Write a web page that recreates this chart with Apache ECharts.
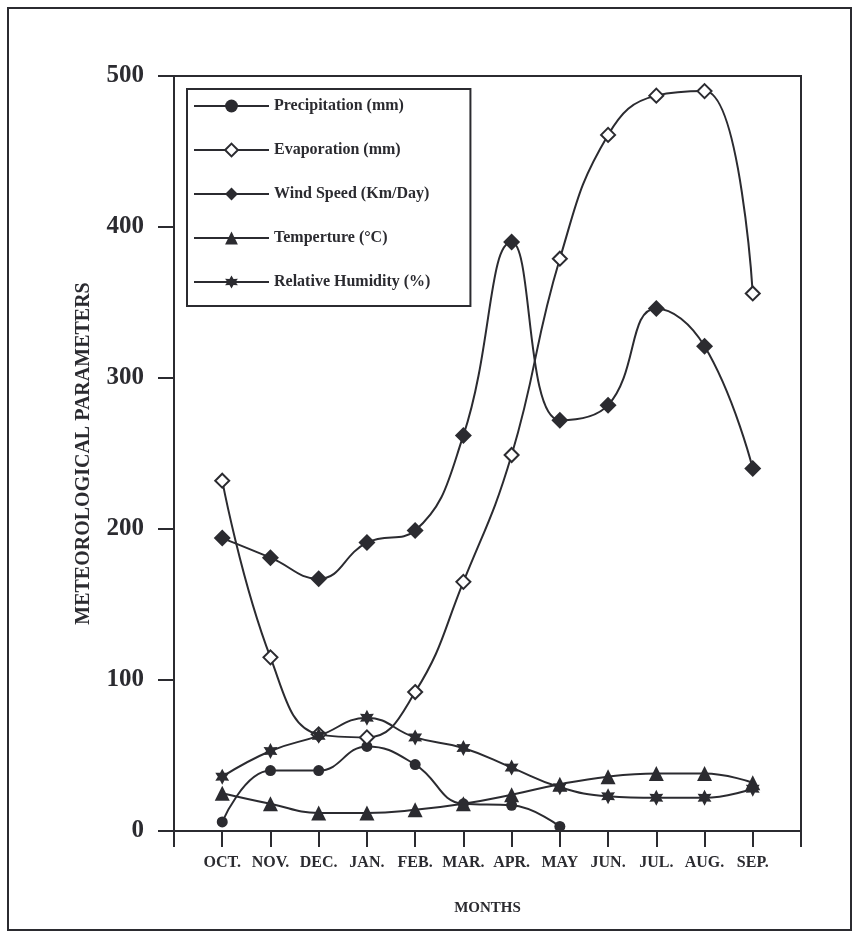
<!DOCTYPE html>
<html>
<head>
<meta charset="utf-8">
<script src="https://cdn.jsdelivr.net/npm/echarts@6/dist/echarts.min.js"></script>
<style>
html,body{margin:0;padding:0;background:#fff;}
#chart{width:853px;height:936px;}
</style>
</head>
<body>
<div id="chart"></div>
<script>
var months = ['OCT.', 'NOV.', 'DEC.', 'JAN.', 'FEB.', 'MAR.', 'APR.', 'MAY', 'JUN.', 'JUL.', 'AUG.', 'SEP.'];
var precipitation = [6, 40, 40, 56, 44, 18, 17, 3, null, null, null, null];
var evaporation = [232, 115, 64, 62, 92, 165, 249, 379, 461, 487, 490, 356];
var windSpeed = [194, 181, 167, 191, 199, 262, 390, 272, 282, 346, 321, 240];
var temperature = [25, 18, 12, 12, 14, 18, 24, 31, 36, 38, 38, 32];
var humidity = [36, 53, 63, 75, 62, 55, 42, 29, 23, 22, 22, 28];
var yTicks = [0, 100, 200, 300, 400, 500];

var ink = '#2b2b30';
var star6 = 'path://M100,0 L127.5,52.4 L186.6,50 L155,100 L186.6,150 L127.5,147.6 L100,200 L72.5,147.6 L13.4,150 L45,100 L13.4,50 L72.5,52.4 Z';

function pts(arr) {
  return arr.map(function (v, i) { return [i + 1, v]; });
}

function mk(name, data, symbol, size) {
  var empty = symbol.indexOf('empty') === 0;
  return {
    name: name,
    type: 'line',
    data: pts(data),
    smooth: 0.45,
    symbol: symbol,
    symbolSize: size,
    symbolKeepAspect: true,
    showSymbol: true,
    connectNulls: false,
    lineStyle: { color: ink, width: 2 },
    itemStyle: { color: ink, borderColor: ink, borderWidth: empty ? 2 : 0 },
    emphasis: { disabled: true },
    z: 3
  };
}

var chart = echarts.init(document.getElementById('chart'), null, { renderer: 'canvas' });
var serif = '"Liberation Serif", "DejaVu Serif", serif';
chart.setOption({
  animation: false,
  backgroundColor: '#ffffff',
  graphic: [{
    type: 'rect',
    shape: { x: 8, y: 8, width: 843, height: 922 },
    style: { fill: 'none', stroke: ink, lineWidth: 2 },
    z: 0
  }],
  grid: {
    left: 174, right: 52, top: 76, bottom: 105,
    show: true, borderColor: ink, borderWidth: 2, backgroundColor: 'transparent'
  },
  legend: {
    orient: 'vertical',
    left: 187, top: 89,
    padding: [9, 40, 16, 6],
    itemWidth: 75, itemHeight: 16,
    itemGap: 28,
    backgroundColor: '#fff',
    borderColor: ink, borderWidth: 2,
    textStyle: { fontFamily: serif, fontWeight: 'bold', fontSize: 16, color: ink },
    data: ['Precipitation (mm)', 'Evaporation (mm)', 'Wind Speed (Km/Day)', 'Temperture (\u00B0C)', 'Relative Humidity (%)']
  },
  xAxis: {
    type: 'value',
    min: 0, max: 13, interval: 1,
    name: 'MONTHS',
    nameLocation: 'middle',
    nameGap: 70,
    nameTextStyle: { fontFamily: serif, fontWeight: 'bold', fontSize: 15, color: ink },
    axisLine: { lineStyle: { color: ink, width: 2 } },
    axisTick: { show: true, length: 16, inside: false, lineStyle: { color: ink, width: 2 } },
    splitLine: { show: false },
    axisLabel: {
      margin: 24,
      fontFamily: serif, fontWeight: 'bold', fontSize: 16, color: ink,
      formatter: function (v) { return (v >= 1 && v <= 12) ? months[v - 1] : ''; }
    }
  },
  yAxis: {
    type: 'value',
    min: 0, max: 500, interval: 100,
    name: 'METEOROLOGICAL PARAMETERS',
    nameLocation: 'middle',
    nameGap: 80,
    nameTextStyle: { fontFamily: serif, fontWeight: 'bold', fontSize: 20, color: ink },
    axisLine: { show: true, lineStyle: { color: ink, width: 2 } },
    axisTick: { show: true, length: 16, lineStyle: { color: ink, width: 2 } },
    splitLine: { show: false },
    axisLabel: {
      margin: 30,
      fontFamily: serif, fontWeight: 'bold', fontSize: 25, color: ink,
      formatter: function (v) { return yTicks.indexOf(v) >= 0 ? String(v) : ''; }
    }
  },
  series: [
    mk('Precipitation (mm)', precipitation, 'circle', 11),
    mk('Evaporation (mm)', evaporation, 'emptyDiamond', 14),
    mk('Wind Speed (Km/Day)', windSpeed, 'diamond', 17),
    mk('Temperture (\u00B0C)', temperature, 'triangle', 15),
    mk('Relative Humidity (%)', humidity, star6, 16)
  ]
});
</script>
</body>
</html>
